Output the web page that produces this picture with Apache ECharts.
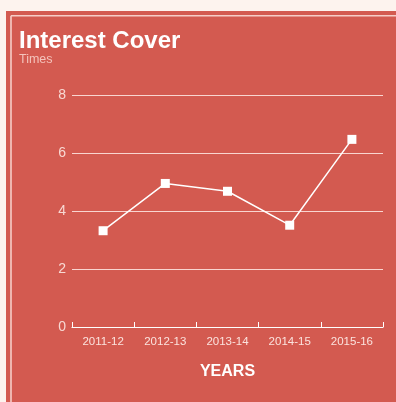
<!DOCTYPE html>
<html>
<head>
<meta charset="utf-8">
<style>
  html, body { margin: 0; padding: 0; background: #fdf3ee; }
  #chart { width: 396px; height: 402px; }
</style>
<script src="https://cdn.jsdelivr.net/npm/echarts@6/dist/echarts.min.js"></script>
</head>
<body>
<div id="chart"></div>
<script>
// Interest cover ratio by financial year
const years = ['2011-12', '2012-13', '2013-14', '2014-15', '2015-16'];
const interestCover = [3.32, 4.95, 4.68, 3.51, 6.47];
const yTicks = { min: 0, max: 8, interval: 2 };

const RED = '#d35a50';
const PALE = 'rgba(255,235,230,0.85)';

const chart = echarts.init(document.getElementById('chart'), null, { renderer: 'canvas' });

chart.setOption({
  backgroundColor: '#fdf3ee',
  animation: false,
  graphic: [
    { type: 'rect', z: -10, shape: { x: 6, y: 11, width: 390, height: 391 }, style: { fill: RED } },
    { type: 'line', z: -9, shape: { x1: 11, y1: 15.7, x2: 396, y2: 15.7 }, style: { stroke: '#f6cdc7', lineWidth: 1.6 } },
    { type: 'line', z: -9, shape: { x1: 11, y1: 15.7, x2: 11, y2: 402 }, style: { stroke: '#f6cdc7', lineWidth: 1.6 } }
  ],
  title: {
    text: 'Interest Cover',
    subtext: 'Times',
    left: 14,
    top: 24,
    itemGap: 0,
    textStyle: { color: '#ffffff', fontSize: 24, fontWeight: 'bold', fontFamily: 'Liberation Sans, Arial, sans-serif' },
    subtextStyle: { color: '#f4c3bb', fontSize: 12.5, fontFamily: 'Liberation Sans, Arial, sans-serif' }
  },
  grid: { left: 72, right: 13, top: 95, bottom: 75, containLabel: false },
  xAxis: {
    type: 'category',
    data: years,
    boundaryGap: true,
    name: 'YEARS',
    nameLocation: 'middle',
    nameGap: 37,
    nameTextStyle: { color: '#ffffff', fontSize: 16, fontWeight: 'bold', fontFamily: 'Liberation Sans, Arial, sans-serif' },
    axisLine: { lineStyle: { color: '#ffffff', width: 1.2 } },
    axisTick: { show: true, inside: true, length: 5, alignWithLabel: false, lineStyle: { color: '#ffffff', width: 1 } },
    axisLabel: { color: '#fbe3de', fontSize: 11.5, margin: 9, fontFamily: 'Liberation Sans, Arial, sans-serif' },
    splitLine: { show: false }
  },
  yAxis: {
    type: 'value',
    min: yTicks.min,
    max: yTicks.max,
    interval: yTicks.interval,
    axisLine: { show: false },
    axisTick: { show: false },
    axisLabel: { color: '#f8d9d3', fontSize: 14, margin: 6, fontFamily: "'Liberation Sans Narrow', 'Liberation Sans', Arial, sans-serif" },
    splitLine: { show: true, lineStyle: { color: PALE, width: 1.2 } }
  },
  series: [{
    type: 'line',
    data: interestCover,
    symbol: 'rect',
    symbolSize: 9,
    lineStyle: { color: '#ffffff', width: 1.5 },
    itemStyle: { color: '#ffffff', borderWidth: 0 }
  }]
});
</script>
</body>
</html>
